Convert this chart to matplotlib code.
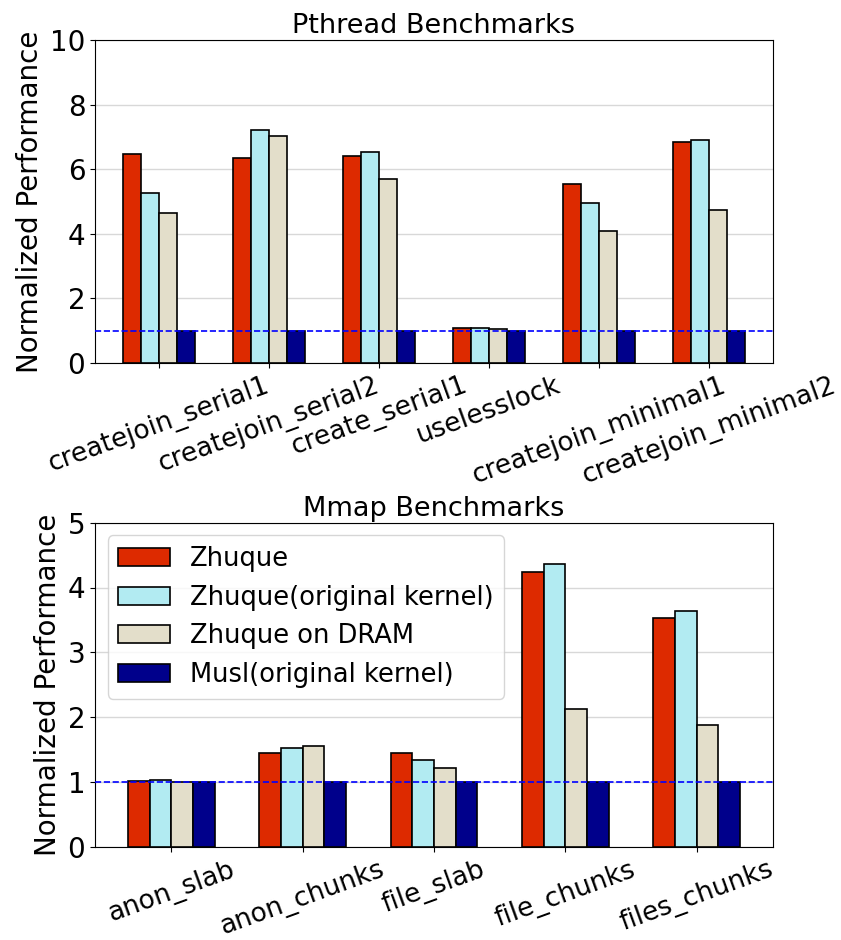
import matplotlib.pyplot as plt
import numpy as np

series_names = ['Zhuque', 'Zhuque(original kernel)', 'Zhuque on DRAM', 'Musl(original kernel)']
colors = ['#dd2a00', '#b2ebf2', '#e3deca', '#00008b']

pthread_labels = ['createjoin_serial1', 'createjoin_serial2', 'create_serial1',
                  'uselesslock', 'createjoin_minimal1', 'createjoin_minimal2']
pthread_zhuque = [6.47, 6.36, 6.42, 1.09, 5.54, 6.84]
pthread_orig = [5.26, 7.21, 6.54, 1.09, 4.96, 6.90]
pthread_dram = [4.65, 7.05, 5.70, 1.06, 4.10, 4.74]
pthread_musl = [1.0, 1.0, 1.0, 1.0, 1.0, 1.0]

mmap_labels = ['anon_slab', 'anon_chunks', 'file_slab', 'file_chunks', 'files_chunks']
mmap_zhuque = [1.02, 1.45, 1.45, 4.24, 3.53]
mmap_orig = [1.03, 1.53, 1.34, 4.37, 3.63]
mmap_dram = [1.00, 1.55, 1.21, 2.13, 1.88]
mmap_musl = [1.0, 1.0, 1.0, 1.0, 1.0]


def draw_panel(ax, labels, data, title, ymax, yticks, legend=False):
    x = np.arange(len(labels))
    width = 0.165
    for i, vals in enumerate(data):
        ax.bar(x + (i - 1.5) * width, vals, width, color=colors[i],
               edgecolor='black', linewidth=1.2, label=series_names[i], zorder=3)
    ax.axhline(y=1, color='blue', linestyle='--', linewidth=1.2, zorder=4)
    ax.set_xticks(x)
    ax.set_xticklabels(labels, rotation=20, ha='center', fontsize=19)
    ax.set_xlim(-0.58, len(labels) - 1 + 0.58)
    ax.set_ylim(0, ymax)
    ax.set_yticks(yticks)
    ax.tick_params(axis='y', labelsize=20)
    ax.set_ylabel('Normalized Performance', fontsize=20)
    ax.set_title(title, fontsize=19.5, pad=5)
    ax.grid(True, axis='y', color='#d8d8d8', linewidth=1, zorder=0)
    if legend:
        ax.legend(loc='upper left', fontsize=18.5)


fig = plt.figure(figsize=(8.41, 9.4), dpi=100)
ax1 = fig.add_axes([0.113, 0.614, 0.806, 0.343])
ax2 = fig.add_axes([0.113, 0.099, 0.806, 0.345])

draw_panel(ax1, pthread_labels,
           [pthread_zhuque, pthread_orig, pthread_dram, pthread_musl],
           'Pthread Benchmarks', 10, [0, 2, 4, 6, 8, 10])
draw_panel(ax2, mmap_labels,
           [mmap_zhuque, mmap_orig, mmap_dram, mmap_musl],
           'Mmap Benchmarks', 5, [0, 1, 2, 3, 4, 5], legend=True)

fig.savefig('out.png', dpi=100)
